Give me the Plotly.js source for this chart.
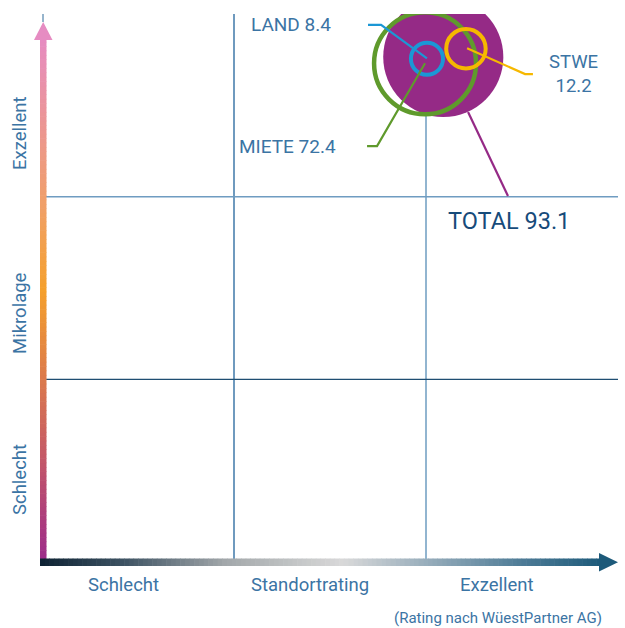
<!DOCTYPE html>
<html>
<head>
<meta charset="utf-8">
<script src="https://cdn.plot.ly/plotly-3.0.1.min.js"></script>
<style>html,body{margin:0;padding:0;background:#fff;}#chart{width:625px;height:628px;}</style>
</head>
<body>
<div id="chart"></div>
<script>
// ---- data ----
const seriesNames = ['TOTAL', 'MIETE', 'LAND', 'STWE'];
const seriesValues = [93.1, 72.4, 8.4, 12.2];
const standortRating = [2.09, 1.995, 2.005, 2.208];   // x position (0-3)
const mikrolageRating = [2.765, 2.73, 2.755, 2.81];   // y position (0-3)
const seriesColors = ['#952a86', '#5f9a2c', '#1b97d5', '#f6b800'];
const xCategoryLabels = ['Schlecht', 'Standortrating', 'Exzellent'];
const yCategoryLabels = ['Schlecht', 'Mikrolage', 'Exzellent'];
const sourceNote = '(Rating nach WüestPartner AG)';

const textColor = '#3b74a4';
const fontFam = 'Roboto, "Liberation Sans", sans-serif';

// bubble diameter proportional to sqrt(value)
const k = 12.45;
const diam = seriesValues.map(v => k * Math.sqrt(v));

const traces = seriesNames.map((n, i) => ({
  type: 'scatter', mode: 'markers', name: n,
  x: [standortRating[i]], y: [mikrolageRating[i]],
  cliponaxis: true,
  hoverinfo: 'skip',
  marker: i === 0 ? {
    size: diam[i], color: seriesColors[i], line: {width: 0}
  } : {
    size: diam[i] - 4, symbol: 'circle-open', color: seriesColors[i],
    line: {width: i === 1 ? 4.5 : 4, color: seriesColors[i]}
  }
}));

// ---- layout geometry helpers ----
const L = 42, R = 618, T = 14, B = 562;
const px2paperX = p => (p - L) / (R - L);
const px2paperY = p => (B - p) / (B - T);

function hex2rgb(h){ return [1,3,5].map(i => parseInt(h.substr(i,2),16)); }
function interp(stops, t){
  for (let i = 0; i < stops.length - 1; i++){
    const [t0,c0] = stops[i], [t1,c1] = stops[i+1];
    if (t >= t0 && t <= t1){
      const f = (t - t0) / (t1 - t0 || 1);
      const a = hex2rgb(c0), b = hex2rgb(c1);
      return 'rgb(' + a.map((v,j)=>Math.round(v + (b[j]-v)*f)).join(',') + ')';
    }
  }
  return stops[stops.length-1][1];
}

const shapes = [];
// gradient y arrow (bottom -> top)
const yStops = [[0,'#9b2a8c'],[0.2,'#c45868'],[0.33,'#d87550'],[0.52,'#f5a02c'],[0.68,'#f0a068'],[0.85,'#eb9598'],[1,'#e68cc2']];
const yBot = 564, yTop = 38, N = 120;
for (let i = 0; i < N; i++){
  const p0 = yBot - (yBot - yTop) * i / N, p1 = yBot - (yBot - yTop) * (i + 1) / N - 0.6;
  shapes.push({type:'rect', xref:'paper', yref:'paper', layer:'above',
    x0: px2paperX(40), x1: px2paperX(46.5), y0: px2paperY(p0), y1: px2paperY(p1),
    fillcolor: interp(yStops, (i + 0.5) / N), line:{width:0}});
}
shapes.push({type:'path', xref:'paper', yref:'paper', layer:'above',
  path: `M ${px2paperX(34)},${px2paperY(40)} L ${px2paperX(43.2)},${px2paperY(22)} L ${px2paperX(52.5)},${px2paperY(40)} Z`,
  fillcolor:'#e68cc2', line:{width:0}});
// gradient x arrow (left -> right)
const xStops = [[0,'#0d2233'],[0.15,'#3e5363'],[0.33,'#a2a7aa'],[0.54,'#d9d9d9'],[0.7,'#93aab9'],[0.86,'#4d7b96'],[1,'#1d5a7a']];
const xL = 40, xR = 601;
for (let i = 0; i < N; i++){
  const p0 = xL + (xR - xL) * i / N, p1 = xL + (xR - xL) * (i + 1) / N + 0.6;
  shapes.push({type:'rect', xref:'paper', yref:'paper', layer:'above',
    x0: px2paperX(p0), x1: px2paperX(p1), y0: px2paperY(558.5), y1: px2paperY(566),
    fillcolor: interp(xStops, (i + 0.5) / N), line:{width:0}});
}
shapes.push({type:'path', xref:'paper', yref:'paper', layer:'above',
  path: `M ${px2paperX(599)},${px2paperY(553)} L ${px2paperX(618)},${px2paperY(562.2)} L ${px2paperX(599)},${px2paperY(571.5)} Z`,
  fillcolor:'#1d5a7a', line:{width:0}});

// quadrant lines
shapes.push({type:'line', xref:'x', yref:'y', x0:1, x1:1, y0:0.01, y1:3, line:{color:'#3f79a8', width:1.5}, layer:'below'});
shapes.push({type:'line', xref:'x', yref:'y', x0:2, x1:2, y0:0.01, y1:3, line:{color:'#6e9cc0', width:1.5}, layer:'below'});
shapes.push({type:'line', xref:'x', yref:'y', x0:0.02, x1:3, y0:2, y1:2, line:{color:'#6f9cc1', width:1.5}, layer:'below'});
shapes.push({type:'line', xref:'x', yref:'y', x0:0.02, x1:3, y0:1, y1:1, line:{color:'#1f4e72', width:1.3}, layer:'below'});
// top stub of y-axis above arrow
shapes.push({type:'line', xref:'paper', yref:'paper', x0:px2paperX(43), x1:px2paperX(43), y0:px2paperY(22), y1:1, line:{color:'#2e6b9a', width:1}});

// leader lines (data coordinates)
const leaders = [
  {c: seriesColors[2], p: [[2.005,2.757],[1.766,2.94],[1.698,2.94]]},
  {c: seriesColors[1], p: [[1.995,2.73],[1.745,2.277],[1.693,2.277]]},
  {c: seriesColors[3], p: [[2.214,2.813],[2.516,2.671],[2.557,2.671]]},
  {c: seriesColors[0], p: [[2.219,2.463],[2.427,2.004]]}
];
leaders.forEach(l => shapes.push({type:'path', xref:'x', yref:'y', layer:'above',
  path: 'M ' + l.p.map(q => q[0] + ',' + q[1]).join(' L '),
  line:{color:l.c, width:2.2}}));

const f = (s, c, w) => ({family: fontFam, size: s, color: c || textColor, weight: w || 400});
const ann = (x, y, text, font, extra) => Object.assign({x, y, xref:'paper', yref:'paper', xanchor:'center', yanchor:'middle', showarrow:false, text, font}, extra || {});
const annotations = [
  {x:1.078, y:2.94, xref:'x', yref:'y', xanchor:'left', yanchor:'middle', showarrow:false,
   text: seriesNames[2] + ' ' + seriesValues[2], font: f(19)},
  {x:1.016, y:2.277, xref:'x', yref:'y', xanchor:'left', yanchor:'middle', showarrow:false,
   text: seriesNames[1] + ' ' + seriesValues[1], font: f(19)},
  {x:2.766, y:2.669, xref:'x', yref:'y', xanchor:'center', yanchor:'middle', showarrow:false,
   text: seriesNames[3] + '<br>' + seriesValues[3], font: f(18.5)},
  {x:2.105, y:1.867, xref:'x', yref:'y', xanchor:'left', yanchor:'middle', showarrow:false,
   text: seriesNames[0] + ' ' + seriesValues[0], font: f(23.5, '#174b7a', 400)},
  // axis category labels
  ann(px2paperX(123), px2paperY(585), xCategoryLabels[0], f(18.5)),
  ann(px2paperX(310), px2paperY(585), xCategoryLabels[1], f(18.5)),
  ann(px2paperX(497), px2paperY(585), xCategoryLabels[2], f(18.5)),
  ann(px2paperX(498), px2paperY(618), sourceNote, f(15)),
  ann(px2paperX(20), px2paperY(480), yCategoryLabels[0], f(18.5), {textangle:-90}),
  ann(px2paperX(20), px2paperY(313), yCategoryLabels[1], f(18.5), {textangle:-90}),
  ann(px2paperX(20), px2paperY(133), yCategoryLabels[2], f(18.5), {textangle:-90})
];

const layout = {
  width: 625, height: 628,
  margin: {l: L, r: 625 - R, t: T, b: 628 - B, pad: 0},
  paper_bgcolor: '#fff', plot_bgcolor: '#fff',
  showlegend: false,
  xaxis: {range:[0,3], showgrid:false, zeroline:false, showticklabels:false, showline:false, ticks:'', fixedrange:true},
  yaxis: {range:[0,3], showgrid:false, zeroline:false, showticklabels:false, showline:false, ticks:'', fixedrange:true},
  shapes: shapes,
  annotations: annotations
};

Plotly.newPlot('chart', traces, layout, {displayModeBar:false, staticPlot:true});
</script>
</body>
</html>
